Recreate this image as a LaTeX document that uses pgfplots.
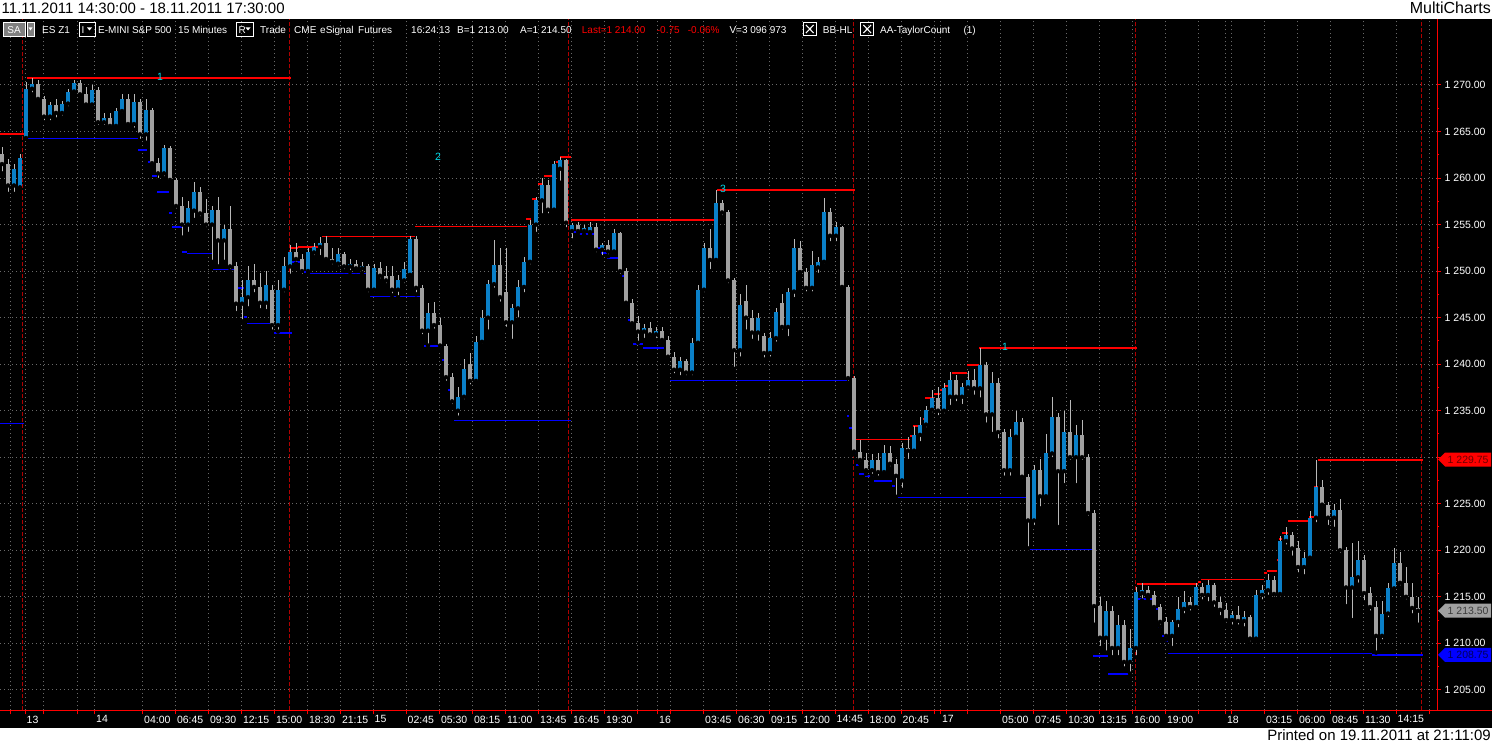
\documentclass[border=0pt]{standalone}
\usepackage{fontspec}
\setmainfont{Liberation Sans}
\usepackage{pgfplots}
\pgfplotsset{compat=1.18}
\usepackage{pgfplotstable}

\definecolor{upblue}{RGB}{10,128,200}
\definecolor{dngray}{RGB}{160,160,160}
\definecolor{wick}{RGB}{185,185,185}
\definecolor{gridc}{RGB}{105,105,105}
\definecolor{sepred}{RGB}{175,0,0}
\definecolor{lred}{RGB}{255,0,0}
\definecolor{lblue}{RGB}{0,0,255}
\definecolor{cyanl}{RGB}{0,220,235}
\definecolor{boxgray}{RGB}{128,128,128}
\definecolor{tagR}{RGB}{110,0,0}
\definecolor{tagG}{RGB}{60,60,60}
\definecolor{tagB}{RGB}{0,0,90}

\newcommand{\sm}{\fontsize{10.5bp}{12bp}\selectfont}
\newcommand{\tbf}{\fontsize{10bp}{12bp}\selectfont}
\newcommand{\hl}[4]{\addplot[#1, forget plot] coordinates {(#2,#4) (#3,#4)};}
\tikzset{
  segR/.style={lred, line width=2bp},
  segr/.style={lred, line width=1bp},
  segB/.style={lblue, line width=2bp},
  segb/.style={lblue, line width=1bp},
  tbtext/.style={anchor=base west, inner sep=0pt, text=white, font=\tbf},
}

\pgfplotstableread{
x o h l c
2 1262.6 1263.3 1260.5 1261.5
8 1261.5 1262.0 1258.3 1259.2
14 1259.2 1261.5 1258.3 1261.0
20 1259.0 1262.6 1258.8 1262.2
26 1264.3 1270.3 1264.2 1269.6
32 1269.6 1270.75 1269.0 1270.1
38 1270.1 1270.5 1268.2 1268.5
44 1268.5 1268.8 1266.0 1266.6
50 1266.6 1268.2 1266.0 1267.8
56 1267.8 1268.5 1266.3 1267.0
62 1267.0 1268.3 1266.5 1268.0
68 1268.0 1269.6 1267.5 1269.3
74 1269.3 1270.5 1269.0 1270.2
80 1270.2 1270.5 1268.8 1269.0
86 1269.0 1269.8 1267.6 1267.9
92 1267.9 1270.0 1267.5 1269.5
98 1269.5 1269.8 1265.5 1266.0
104 1266.0 1267.0 1265.5 1266.5
110 1266.5 1267.0 1265.3 1265.6
116 1265.6 1267.5 1265.3 1267.2
122 1267.2 1269.0 1266.8 1268.5
128 1268.5 1269.0 1265.5 1265.8
134 1265.8 1269.0 1265.2 1268.2
140 1268.2 1268.5 1264.0 1264.7
146 1264.7 1268.5 1263.8 1267.3
152 1267.3 1267.5 1261.3 1261.6
158 1261.6 1262.2 1259.8 1260.5
164 1260.5 1263.5 1260.0 1263.2
170 1263.2 1263.4 1259.5 1259.8
176 1259.8 1260.0 1256.5 1257.0
182 1257.0 1258.0 1253.6 1255.0
188 1255.0 1257.5 1254.0 1256.8
194 1256.5 1259.6 1255.5 1258.5
200 1258.5 1259.0 1255.7 1256.2
206 1256.2 1257.8 1254.5 1255.0
212 1255.0 1257.0 1251.0 1256.6
218 1256.6 1258.0 1250.5 1253.3
224 1253.3 1255.0 1251.0 1254.5
230 1254.5 1257.0 1250.0 1250.5
236 1250.5 1251.0 1245.5 1246.5
242 1246.5 1249.0 1244.6 1247.2
248 1247.2 1250.5 1246.0 1249.0
254 1249.0 1250.8 1247.5 1248.3
260 1248.3 1249.8 1245.8 1246.6
266 1246.6 1250.0 1245.7 1248.5
272 1248.0 1248.5 1243.5 1244.2
278 1244.2 1249.0 1243.5 1248.0
284 1248.0 1251.5 1247.5 1250.5
290 1250.5 1252.8 1249.5 1252.0
296 1252.0 1253.0 1250.8 1251.3
302 1251.3 1251.8 1249.5 1250.0
308 1250.0 1252.5 1249.8 1252.0
314 1252.0 1253.0 1251.5 1252.6
320 1252.6 1253.7 1251.5 1253.0
326 1253.0 1253.75 1251.0 1251.3
332 1251.3 1252.5 1250.5 1251.0
338 1250.8 1252.5 1250.3 1251.8
344 1251.8 1252.0 1250.0 1250.5
350 1250.5 1251.3 1249.9 1250.8
356 1250.8 1251.2 1250.0 1250.3
362 1250.3 1251.0 1249.8 1250.6
368 1250.6 1250.8 1247.5 1248.0
374 1248.0 1250.8 1247.6 1250.3
380 1250.3 1251.0 1249.0 1249.5
386 1249.5 1250.5 1248.5 1249.0
392 1249.5 1250.6 1247.4 1248.0
398 1248.0 1249.6 1247.2 1249.0
404 1249.0 1251.0 1248.5 1250.2
410 1249.6 1253.75 1249.4 1253.4
416 1253.4 1253.75 1247.5 1248.2
422 1248.2 1248.5 1243.0 1243.6
428 1243.6 1246.6 1242.0 1245.5
434 1245.5 1246.7 1243.6 1244.2
440 1244.2 1245.0 1241.6 1242.0
446 1242.0 1242.2 1238.0 1238.6
452 1238.6 1239.0 1235.5 1236.0
458 1235.0 1237.5 1234.25 1236.5
464 1236.5 1240.5 1236.0 1239.5
470 1240.0 1241.2 1237.6 1238.2
476 1238.2 1243.0 1238.0 1242.4
482 1242.4 1245.8 1242.0 1245.0
488 1245.0 1249.0 1243.5 1248.6
494 1248.6 1253.3 1248.0 1250.7
500 1250.7 1252.5 1246.5 1247.2
506 1247.8 1252.5 1243.8 1244.5
512 1244.5 1246.5 1242.5 1246.0
518 1246.0 1249.0 1244.8 1248.3
524 1248.3 1251.5 1247.5 1251.0
530 1251.0 1255.5 1250.5 1255.0
536 1255.0 1258.0 1254.0 1257.6
542 1257.6 1260.0 1256.0 1259.3
548 1259.3 1259.8 1256.0 1256.6
554 1256.6 1261.8 1256.3 1261.5
560 1261.0 1262.3 1259.5 1261.9
566 1261.9 1262.0 1254.5 1255.2
572 1254.3 1255.2 1253.3 1254.9
578 1254.9 1255.3 1254.0 1254.3
584 1254.3 1255.0 1253.9 1254.6
590 1254.2 1255.3 1254.0 1254.7
596 1254.7 1255.2 1251.8 1252.3
602 1252.3 1253.0 1251.5 1252.8
608 1252.8 1253.3 1251.6 1252.1
614 1252.1 1254.5 1251.8 1254.1
620 1254.1 1254.2 1249.5 1250.0
626 1250.0 1250.3 1246.3 1246.6
632 1246.6 1247.0 1244.0 1244.4
638 1244.4 1245.2 1242.3 1243.5
644 1243.5 1244.3 1242.6 1243.9
650 1243.9 1244.5 1242.8 1243.2
656 1243.2 1244.0 1242.6 1243.6
662 1243.6 1244.0 1242.3 1242.6
668 1242.6 1243.0 1240.5 1240.8
674 1240.8 1241.3 1238.8 1239.4
680 1239.4 1240.8 1238.6 1240.3
686 1240.3 1240.6 1238.6 1239.1
692 1239.1 1242.8 1238.6 1242.3
698 1242.3 1248.5 1242.0 1248.0
704 1248.0 1253.0 1247.5 1252.5
710 1252.5 1254.5 1250.0 1251.2
716 1251.2 1258.75 1250.8 1257.3
722 1257.3 1257.6 1255.8 1256.3
728 1256.3 1256.6 1248.5 1249.0
734 1249.0 1249.3 1239.5 1241.5
740 1241.5 1247.5 1240.6 1246.4
746 1246.8 1248.5 1243.5 1245.0
752 1245.0 1245.8 1242.5 1243.4
758 1243.4 1245.5 1242.3 1245.0
764 1243.0 1243.4 1240.5 1241.2
770 1241.2 1243.5 1240.6 1242.8
776 1242.8 1246.0 1242.2 1245.6
782 1246.6 1247.5 1243.5 1244.0
788 1244.0 1248.2 1242.8 1247.8
794 1247.8 1253.5 1247.0 1252.5
800 1252.5 1253.2 1249.5 1249.9
806 1249.9 1250.3 1247.6 1248.2
812 1248.2 1252.2 1247.6 1250.7
818 1250.4 1251.5 1249.6 1251.0
824 1251.0 1257.9 1250.6 1256.4
830 1256.4 1256.8 1253.0 1253.8
836 1253.8 1255.3 1253.0 1254.7
842 1254.7 1254.8 1248.0 1248.3
848 1248.3 1248.5 1238.0 1238.5
854 1238.5 1238.7 1230.3 1230.6
860 1230.6 1231.8 1229.3 1229.7
866 1229.7 1230.5 1228.2 1228.6
872 1228.6 1230.3 1228.0 1229.7
878 1229.7 1230.5 1227.8 1228.4
884 1228.4 1231.3 1228.0 1230.4
890 1230.4 1231.2 1228.8 1229.3
896 1229.3 1229.8 1225.75 1228.0
902 1227.5 1231.5 1226.5 1231.0
908 1231.0 1232.2 1229.6 1230.7
914 1230.7 1233.3 1230.3 1232.4
920 1232.4 1234.3 1231.5 1233.5
926 1233.5 1235.5 1233.0 1235.1
932 1235.1 1237.2 1234.6 1236.4
938 1236.4 1237.5 1234.3 1235.0
944 1235.0 1238.0 1234.5 1237.4
950 1236.5 1239.2 1235.4 1238.3
956 1238.3 1238.8 1235.8 1236.5
962 1236.5 1238.0 1235.5 1237.5
968 1237.5 1239.3 1237.0 1238.3
974 1238.3 1239.5 1236.5 1237.4
980 1237.4 1241.75 1236.2 1239.9
986 1239.9 1240.2 1233.5 1234.6
992 1234.6 1239.2 1232.5 1238.0
998 1238.0 1238.5 1231.8 1232.7
1004 1232.7 1233.0 1227.8 1228.6
1010 1228.6 1233.0 1227.8 1232.2
1016 1232.2 1235.0 1231.8 1233.8
1022 1233.8 1234.2 1227.5 1227.9
1028 1227.9 1228.2 1220.2 1223.2
1034 1223.2 1229.2 1222.5 1228.6
1040 1228.6 1229.8 1224.5 1225.8
1046 1225.8 1232.5 1225.5 1230.4
1052 1230.4 1236.5 1229.8 1234.3
1058 1234.3 1234.8 1222.5 1228.5
1064 1228.5 1235.0 1227.0 1232.7
1070 1232.7 1236.2 1229.5 1230.0
1076 1230.0 1233.5 1227.0 1232.4
1082 1232.4 1234.0 1229.5 1230.0
1088 1230.0 1230.3 1223.5 1224.0
1094 1224.0 1224.3 1212.0 1214.0
1100 1214.0 1215.0 1209.5 1210.6
1106 1210.6 1214.5 1209.0 1213.5
1112 1213.5 1214.0 1208.5 1209.5
1118 1209.5 1213.0 1208.5 1212.0
1124 1212.0 1212.5 1207.3 1208.0
1130 1208.0 1211.5 1206.75 1209.5
1136 1209.5 1216.0 1208.5 1215.5
1142 1215.4 1216.5 1214.6 1215.7
1148 1215.7 1216.2 1214.8 1215.2
1154 1215.2 1215.6 1213.5 1213.9
1160 1213.9 1214.2 1211.8 1212.3
1166 1212.3 1212.8 1210.4 1210.8
1172 1210.8 1212.5 1209.5 1212.3
1178 1212.3 1215.0 1211.5 1213.7
1184 1213.7 1215.6 1213.0 1214.4
1190 1214.4 1215.0 1213.3 1213.9
1196 1213.9 1216.5 1213.5 1216.0
1202 1216.0 1216.5 1214.5 1215.2
1208 1215.2 1216.75 1214.3 1216.3
1214 1216.3 1216.5 1213.7 1214.4
1220 1214.4 1215.0 1212.8 1213.6
1226 1213.6 1214.3 1212.0 1212.5
1232 1212.5 1213.5 1211.8 1213.0
1238 1213.0 1214.0 1211.8 1212.4
1244 1212.4 1213.5 1211.6 1212.8
1250 1212.8 1213.0 1210.0 1210.5
1256 1210.5 1215.7 1210.2 1215.2
1262 1215.2 1216.3 1214.5 1215.7
1268 1215.7 1217.5 1215.0 1216.8
1274 1216.8 1217.2 1214.8 1215.3
1280 1215.3 1221.5 1214.8 1221.0
1286 1221.0 1222.5 1220.4 1221.6
1292 1221.6 1222.0 1219.2 1220.2
1298 1220.2 1221.0 1217.4 1218.2
1304 1218.2 1219.8 1217.2 1219.2
1310 1219.2 1224.2 1219.0 1223.5
1316 1223.5 1229.75 1222.8 1226.8
1322 1226.8 1227.5 1224.5 1224.9
1328 1224.9 1225.2 1222.5 1223.5
1334 1223.5 1225.0 1222.3 1224.3
1340 1224.3 1225.5 1219.5 1220.0
1346 1220.0 1220.3 1214.0 1216.0
1352 1216.0 1220.8 1212.5 1217.1
1358 1217.1 1221.0 1216.3 1219.0
1364 1219.0 1219.5 1214.4 1215.4
1370 1215.4 1216.0 1213.3 1213.9
1376 1213.9 1214.5 1209.0 1210.8
1382 1210.8 1214.5 1210.2 1213.2
1388 1213.2 1216.5 1212.6 1215.9
1394 1215.9 1220.2 1215.5 1218.6
1400 1218.6 1219.8 1216.0 1216.5
1406 1216.5 1218.2 1214.5 1215.0
1412 1215.0 1216.5 1213.0 1213.8
1418 1213.8 1215.0 1212.0 1213.5
}\bars

\begin{document}
\begin{tikzpicture}
\begin{scope}[x=1bp,y=1bp]
  \fill[black] (0,17.3) rectangle (1492,726);
  \fill[white] (0,726) rectangle (1492,745);
  \fill[white] (0,0) rectangle (1492,17.3);
\end{scope}

\begin{axis}[
  at={(0bp,34.5bp)}, anchor=south west,
  width=1437bp, height=691.5bp, scale only axis,
  xmin=0, xmax=1437, ymin=1202.778, ymax=1277.093,
  axis x line*=bottom, axis y line*=right,
  axis line style={lred, line width=1bp},
  tick style={lred, line width=1bp},
  tick align=outside,
  major tick length=4bp, minor tick length=2bp,
  xtick={10,25,43,77,94.5,142.5,175.3,208.3,241.3,274.3,307.3,340.3,373,406,439.3,472.3,505.3,538.5,571.3,604.5,637.3,657.5,670,703.5,736.5,769.3,802,835,868,901,934.3,940.3,967.3,1000.5,1033.3,1066.5,1099,1132.3,1165.3,1198.3,1225.3,1231.7,1264.3,1297.3,1330.3,1363.3,1396,1429},
  xticklabels={{},13,{},{},14,04:00,06:45,09:30,12:15,15:00,18:30,21:15,15,02:45,05:30,08:15,11:00,13:45,16:45,19:30,{},16,{},03:45,06:30,09:15,12:00,14:45,18:00,20:45,{},17,{},05:00,07:45,10:30,13:15,16:00,19:00,{},18,{},03:15,06:00,08:45,11:30,14:15,{}},
  ytick={1205,1210,...,1270},
  yticklabels={1 205.00,1 210.00,1 215.00,1 220.00,1 225.00,{},1 235.00,1 240.00,1 245.00,1 250.00,1 255.00,1 260.00,1 265.00,1 270.00},
  minor y tick num=1,
  grid=major,
  major grid style={gridc, line width=1bp, dash pattern=on 1bp off 3bp},
  xticklabel style={anchor=north west, inner sep=0pt, xshift=1.5bp, yshift=-1bp, text=white, font=\sm},
  yticklabel style={anchor=west, inner sep=0pt, xshift=3.5bp, text=white, font=\sm},
]
% day separators
\addplot[sepred, line width=1bp, dash pattern=on 4bp off 2bp, forget plot] coordinates {(22,1202.778) (22,1277.093)};
\addplot[sepred, line width=1bp, dash pattern=on 4bp off 2bp, forget plot] coordinates {(289,1202.778) (289,1277.093)};
\addplot[sepred, line width=1bp, dash pattern=on 4bp off 2bp, forget plot] coordinates {(568,1202.778) (568,1277.093)};
\addplot[sepred, line width=1bp, dash pattern=on 4bp off 2bp, forget plot] coordinates {(853,1202.778) (853,1277.093)};
\addplot[sepred, line width=1bp, dash pattern=on 4bp off 2bp, forget plot] coordinates {(1135,1202.778) (1135,1277.093)};
\addplot[sepred, line width=1bp, dash pattern=on 4bp off 2bp, forget plot] coordinates {(1421,1202.778) (1421,1277.093)};

% support / resistance lines
\hl{segR}{0}{24}{1264.75}
\hl{segb}{0}{24}{1233.6}
\hl{segR}{27}{291}{1270.75}
\hl{segb}{25}{138}{1264.2}
\hl{segB}{138}{147}{1263.0}
\hl{segB}{148}{151}{1261.7}
\hl{segB}{152}{157}{1260.2}
\hl{segB}{157}{169}{1258.5}
\hl{segB}{169}{172}{1256.2}
\hl{segB}{172}{182}{1254.7}
\hl{segB}{182}{187}{1252.1}
\hl{segb}{187}{213}{1251.9}
\hl{segb}{213}{238}{1250.2}
\hl{segB}{238}{244}{1248.15}
\hl{segB}{244}{247}{1245.1}
\hl{segb}{247}{274}{1244.4}
\hl{segB}{274}{292}{1243.4}
\hl{segR}{290}{298}{1252.45}
\hl{segR}{298}{322}{1252.6}
\hl{segB}{292}{303}{1251.0}
\hl{segB}{304}{307}{1249.9}
\hl{segb}{307}{370}{1249.7}
\hl{segr}{322}{415}{1253.75}
\hl{segr}{415}{527}{1254.75}
\hl{segb}{370}{421}{1247.3}
\hl{segB}{421}{424}{1246.45}
\hl{segB}{424}{442}{1241.95}
\hl{segB}{442}{448}{1240.45}
\hl{segB}{448}{452}{1237.2}
\hl{segB}{452}{454}{1236.0}
\hl{segb}{454}{571}{1233.9}
\hl{segR}{526}{531}{1255.6}
\hl{segR}{532}{537}{1257.7}
\hl{segR}{538}{543}{1259.4}
\hl{segR}{544}{555}{1260.2}
\hl{segR}{556}{560}{1261.7}
\hl{segR}{560}{571}{1262.3}
\hl{segR}{571}{717}{1255.5}
\hl{segB}{571}{577}{1254.2}
\hl{segB}{577}{598}{1253.95}
\hl{segB}{598}{601}{1252.45}
\hl{segB}{601}{607}{1251.9}
\hl{segB}{607}{622}{1251.4}
\hl{segB}{622}{625}{1249.5}
\hl{segB}{625}{628}{1246.5}
\hl{segB}{628}{633}{1244.75}
\hl{segB}{633}{643}{1242.2}
\hl{segB}{643}{664}{1241.7}
\hl{segb}{670}{847}{1238.2}
\hl{segR}{717}{855}{1258.75}
\hl{segB}{847}{849}{1234.4}
\hl{segB}{849}{853}{1233.1}
\hl{segB}{853}{856}{1230.5}
\hl{segB}{856}{859}{1229.2}
\hl{segB}{859}{865}{1228.2}
\hl{segB}{865}{874}{1228.0}
\hl{segB}{874}{892}{1227.45}
\hl{segB}{892}{895}{1226.9}
\hl{segb}{895}{1027}{1225.7}
\hl{segr}{856}{910}{1231.9}
\hl{segR}{910}{913}{1232.3}
\hl{segR}{913}{920}{1233.4}
\hl{segR}{923}{925}{1234.1}
\hl{segR}{925}{934}{1236.4}
\hl{segR}{934}{940}{1236.8}
\hl{segR}{940}{945}{1237.2}
\hl{segR}{945}{952}{1237.6}
\hl{segR}{952}{967}{1239.1}
\hl{segR}{967}{979}{1239.9}
\hl{segR}{979}{1137}{1241.75}
\hl{segb}{1027}{1093}{1220.1}
\hl{segB}{1093}{1108}{1208.6}
\hl{segB}{1108}{1130}{1206.7}
\hl{segB}{1137}{1153}{1214.8}
\hl{segB}{1153}{1156}{1214.05}
\hl{segB}{1156}{1158}{1213.65}
\hl{segB}{1158}{1162}{1211.8}
\hl{segB}{1162}{1165}{1210.8}
\hl{segB}{1165}{1168}{1210.2}
\hl{segb}{1168}{1372}{1208.9}
\hl{segB}{1372}{1423}{1208.75}
\hl{segR}{1137}{1198}{1216.4}
\hl{segR}{1198}{1201}{1216.6}
\hl{segr}{1201}{1264}{1216.9}
\hl{segR}{1264}{1267}{1217.6}
\hl{segR}{1267}{1277}{1217.8}
\hl{segR}{1277}{1279}{1219.0}
\hl{segR}{1279}{1282}{1221.2}
\hl{segR}{1282}{1288}{1221.9}
\hl{segR}{1288}{1309}{1223.1}
\hl{segR}{1309}{1314}{1223.6}
\hl{segR}{1314}{1318}{1226.8}
\hl{segR}{1318}{1423}{1229.75}

% wicks
\addplot[only marks, mark=none, forget plot,
  error bars/.cd, y dir=plus, y explicit, error mark=none,
  error bar style={wick, line width=1bp}]
  table[x=x, y=l, y error plus expr=\thisrow{h}-\thisrow{l}] {\bars};
% up bodies
\addplot[only marks, mark=none, forget plot,
  restrict expr to domain={\thisrow{c}-\thisrow{o}}{0:1000},
  error bars/.cd, y dir=plus, y explicit, error mark=none,
  error bar style={upblue, line width=4bp}]
  table[x=x, y=o, y error plus expr=\thisrow{c}-\thisrow{o}] {\bars};
% down bodies
\addplot[only marks, mark=none, forget plot,
  restrict expr to domain={\thisrow{c}-\thisrow{o}}{-1000:-0.0001},
  error bars/.cd, y dir=plus, y explicit, error mark=none,
  error bar style={dngray, line width=4bp}]
  table[x=x, y=c, y error plus expr=\thisrow{o}-\thisrow{c}] {\bars};

\node[text=cyanl, font=\sm] at (axis cs:160,1270.9) {1};
\node[text=cyanl, font=\sm] at (axis cs:438,1262.3) {2};
\node[text=cyanl, font=\sm] at (axis cs:723,1258.8) {3};
\node[text=cyanl, font=\sm] at (axis cs:1005,1241.9) {1};

\coordinate (tR) at (axis cs:1437,1229.75);
\coordinate (tG) at (axis cs:1437,1213.5);
\coordinate (tB) at (axis cs:1437,1208.75);
\end{axis}

\begin{scope}[x=1bp,y=1bp]
  \draw[lred, line width=1bp] (1437,34.5) -- (1492,34.5);
  % price tags
  \fill[lred, shift={(tR)}] (1,0) -- (8,7) -- (54,7) -- (54,-7) -- (8,-7) -- cycle;
  \node[anchor=west, inner sep=0pt, text=tagR, font=\sm] at ([xshift=10.5bp]tR) {1 229.75};
  \fill[dngray, shift={(tG)}] (1,0) -- (8,7) -- (54,7) -- (54,-7) -- (8,-7) -- cycle;
  \node[anchor=west, inner sep=0pt, text=tagG, font=\sm] at ([xshift=10.5bp]tG) {1 213.50};
  \fill[lblue, shift={(tB)}] (1,0) -- (8,7) -- (54,7) -- (54,-7) -- (8,-7) -- cycle;
  \node[anchor=west, inner sep=0pt, text=tagB, font=\sm] at ([xshift=10.5bp]tB) {1 208.75};

  % header / footer texts
  \node[anchor=base west, inner sep=0pt, font=\fontsize{15bp}{17bp}\selectfont] at (1.5,731) {11.11.2011 14:30:00 - 18.11.2011 17:30:00};
  \node[anchor=base east, inner sep=0pt, font=\fontsize{16bp}{18bp}\selectfont] at (1491,731) {MultiCharts};
  \node[anchor=base east, inner sep=0pt, font=\fontsize{15bp}{17bp}\selectfont] at (1491,4.5) {Printed on 19.11.2011 at 21:11:09};

  % toolbar
  \def\tb{711.7}
  \filldraw[fill=boxgray, draw=white, line width=0.8bp] (3,709) rectangle (25,723);
  \node[anchor=base, inner sep=0pt, text=white, font=\tbf] at (14,\tb) {SA};
  \filldraw[fill=boxgray, draw=white, line width=0.8bp] (27,709) rectangle (34,723);
  \fill[white] (28.5,717.5) -- (32.5,717.5) -- (30.5,714.5) -- cycle;
  \node[tbtext] at (42,\tb) {ES Z1};
  \draw[white, line width=0.8bp] (79,709) rectangle (95,723);
  \node[tbtext] at (81.5,\tb) {I};
  \fill[white] (87,717.5) -- (92,717.5) -- (89.5,714.5) -- cycle;
  \node[tbtext] at (98,\tb) {E-MINI S\&P 500};
  \node[tbtext] at (178,\tb) {15 Minutes};
  \draw[white, line width=0.8bp] (236,709) rectangle (253,723);
  \node[tbtext] at (238.5,\tb) {R};
  \fill[white] (245.5,717.5) -- (250.5,717.5) -- (248,714.5) -- cycle;
  \node[tbtext] at (260,\tb) {Trade};
  \node[tbtext] at (294,\tb) {CME};
  \node[tbtext] at (320,\tb) {eSignal};
  \node[tbtext] at (358,\tb) {Futures};
  \node[tbtext] at (411,\tb) {16:24:13};
  \node[tbtext] at (457,\tb) {B=1 213.00};
  \node[tbtext] at (520,\tb) {A=1 214.50};
  \node[tbtext, text=lred] at (581.7,\tb) {Last=1 214.00};
  \node[tbtext, text=lred] at (656.7,\tb) {-0.75};
  \node[tbtext, text=lred] at (687.7,\tb) {-0.06\%};
  \node[tbtext] at (729.3,\tb) {V=3 096 973};
  \draw[white, line width=0.8bp] (803.3,709.5) rectangle (816.3,722.5);
  \draw[white, line width=1.1bp] (806,712) -- (813.6,720) (806,720) -- (813.6,712);
  \node[tbtext] at (822.7,\tb) {BB-HL};
  \draw[white, line width=0.8bp] (860.7,709.5) rectangle (873.7,722.5);
  \draw[white, line width=1.1bp] (863.4,712) -- (871,720) (863.4,720) -- (871,712);
  \node[tbtext] at (880,\tb) {AA-TaylorCount};
  \node[tbtext] at (963.3,\tb) {(1)};
\end{scope}

\pgfresetboundingbox
\path[use as bounding box] (0,0) rectangle (1492bp,745bp);
\end{tikzpicture}
\end{document}
